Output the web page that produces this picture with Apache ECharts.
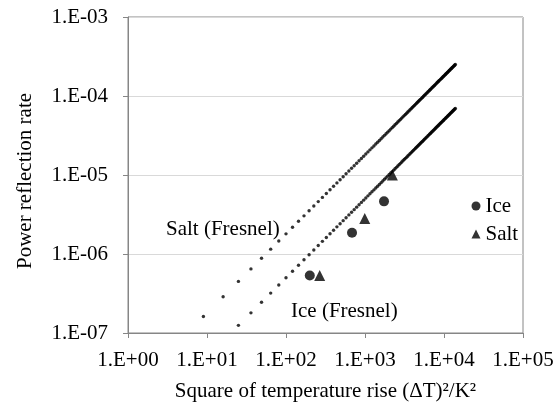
<!DOCTYPE html>
<html>
<head>
<meta charset="utf-8">
<script src="https://cdn.jsdelivr.net/npm/echarts@6/dist/echarts.min.js"></script>
<style>
html,body{margin:0;padding:0;background:#fff;}
#chart{width:558px;height:407px;}
</style>
</head>
<body>
<div id="chart"></div>
<script>
// Measured points
const iceX = [200, 685, 1740];
const iceY = [5.35e-7, 1.86e-6, 4.64e-6];
const saltX = [267, 992, 2220];
const saltY = [5.35e-7, 2.81e-6, 1.0e-5];

// Fresnel curves: dots at x = (ΔT)^2 for ΔT = 3..118
const fresnelX = [9,16,25,36,49,64,81,100,121,144,169,196,225,256,289,324,361,400,441,484,529,576,625,676,729,784,841,900,961,1024,1089,1156,1225,1296,1369,1444,1521,1600,1681,1764,1849,1936,2025,2116,2209,2304,2401,2500,2601,2704,2809,2916,3025,3136,3249,3364,3481,3600,3721,3844,3969,4096,4225,4356,4489,4624,4761,4900,5041,5184,5329,5476,5625,5776,5929,6084,6241,6400,6561,6724,6889,7056,7225,7396,7569,7744,7921,8100,8281,8464,8649,8836,9025,9216,9409,9604,9801,10000,10201,10404,10609,10816,11025,11236,11449,11664,11881,12100,12321,12544,12769,12996,13225,13456,13689,13924];
const saltFresnelY = [1.62e-7,2.88e-7,4.5e-7,6.48e-7,8.82e-7,1.152e-6,1.458e-6,1.8e-6,2.178e-6,2.592e-6,3.042e-6,3.528e-6,4.05e-6,4.608e-6,5.202e-6,5.832e-6,6.498e-6,7.2e-6,7.938e-6,8.712e-6,9.522e-6,1.0368e-5,1.125e-5,1.2168e-5,1.3122e-5,1.4112e-5,1.5138e-5,1.62e-5,1.7298e-5,1.8432e-5,1.9602e-5,2.0808e-5,2.205e-5,2.3328e-5,2.4642e-5,2.5992e-5,2.7378e-5,2.88e-5,3.0258e-5,3.1752e-5,3.3282e-5,3.4848e-5,3.645e-5,3.8088e-5,3.9762e-5,4.1472e-5,4.3218e-5,4.5e-5,4.6818e-5,4.8672e-5,5.0562e-5,5.2488e-5,5.445e-5,5.6448e-5,5.8482e-5,6.0552e-5,6.2658e-5,6.48e-5,6.6978e-5,6.9192e-5,7.1442e-5,7.3728e-5,7.605e-5,7.8408e-5,8.0802e-5,8.3232e-5,8.5698e-5,8.82e-5,9.0738e-5,9.3312e-5,9.5922e-5,9.8568e-5,1.0125e-4,1.03968e-4,1.06722e-4,1.09512e-4,1.12338e-4,1.152e-4,1.18098e-4,1.21032e-4,1.24002e-4,1.27008e-4,1.3005e-4,1.33128e-4,1.36242e-4,1.39392e-4,1.42578e-4,1.458e-4,1.49058e-4,1.52352e-4,1.55682e-4,1.59048e-4,1.6245e-4,1.65888e-4,1.69362e-4,1.72872e-4,1.76418e-4,1.8e-4,1.83618e-4,1.87272e-4,1.90962e-4,1.94688e-4,1.9845e-4,2.02248e-4,2.06082e-4,2.09952e-4,2.13858e-4,2.178e-4,2.21778e-4,2.25792e-4,2.29842e-4,2.33928e-4,2.3805e-4,2.42208e-4,2.46402e-4,2.50632e-4];
const iceFresnelX = fresnelX.slice(2);
const iceFresnelY = [1.25e-7,1.8e-7,2.45e-7,3.2e-7,4.05e-7,5e-7,6.05e-7,7.2e-7,8.45e-7,9.8e-7,1.125e-6,1.28e-6,1.445e-6,1.62e-6,1.805e-6,2e-6,2.205e-6,2.42e-6,2.645e-6,2.88e-6,3.125e-6,3.38e-6,3.645e-6,3.92e-6,4.205e-6,4.5e-6,4.805e-6,5.12e-6,5.445e-6,5.78e-6,6.125e-6,6.48e-6,6.845e-6,7.22e-6,7.605e-6,8e-6,8.405e-6,8.82e-6,9.245e-6,9.68e-6,1.0125e-5,1.058e-5,1.1045e-5,1.152e-5,1.2005e-5,1.25e-5,1.3005e-5,1.352e-5,1.4045e-5,1.458e-5,1.5125e-5,1.568e-5,1.6245e-5,1.682e-5,1.7405e-5,1.8e-5,1.8605e-5,1.922e-5,1.9845e-5,2.048e-5,2.1125e-5,2.178e-5,2.2445e-5,2.312e-5,2.3805e-5,2.45e-5,2.5205e-5,2.592e-5,2.6645e-5,2.738e-5,2.8125e-5,2.888e-5,2.9645e-5,3.042e-5,3.1205e-5,3.2e-5,3.2805e-5,3.362e-5,3.4445e-5,3.528e-5,3.6125e-5,3.698e-5,3.7845e-5,3.872e-5,3.9605e-5,4.05e-5,4.1405e-5,4.232e-5,4.3245e-5,4.418e-5,4.5125e-5,4.608e-5,4.7045e-5,4.802e-5,4.9005e-5,5e-5,5.1005e-5,5.202e-5,5.3045e-5,5.408e-5,5.5125e-5,5.618e-5,5.7245e-5,5.832e-5,5.9405e-5,6.05e-5,6.1605e-5,6.272e-5,6.3845e-5,6.498e-5,6.6125e-5,6.728e-5,6.8445e-5,6.962e-5];

const xTicks = [1, 10, 100, 1000, 10000, 100000];
const xTickLabels = ['1.E+00','1.E+01','1.E+02','1.E+03','1.E+04','1.E+05'];
const yTicks = [1e-7, 1e-6, 1e-5, 1e-4, 1e-3];
const yTickLabels = ['1.E-07','1.E-06','1.E-05','1.E-04','1.E-03'];

const xTitle = 'Square of temperature rise (ΔT)²/K²';
const yTitle = 'Power reflection rate';
const saltFresnelLabel = 'Salt (Fresnel)';
const iceFresnelLabel = 'Ice (Fresnel)';

function zip(a, b) { return a.map((v, i) => [v, b[i]]); }
function lookup(ticks, labels, v) {
  for (let i = 0; i < ticks.length; i++) {
    if (Math.abs(Math.log10(v) - Math.log10(ticks[i])) < 1e-6) return labels[i];
  }
  return '';
}

const FONT = "'Liberation Serif', 'Times New Roman', serif";
const FS = 21;
const AXIS = '#868686';

const chart = echarts.init(document.getElementById('chart'), null, {renderer: 'canvas'});
chart.setOption({
  animation: false,
  backgroundColor: '#fff',
  textStyle: {fontFamily: FONT},
  grid: {left: 128, right: 35, top: 17, bottom: 71, show: true, borderColor: AXIS, borderWidth: 1, backgroundColor: 'transparent'},
  xAxis: {
    type: 'log', logBase: 10, min: 1, max: 100000,
    name: xTitle, nameLocation: 'middle', nameGap: 48,
    nameTextStyle: {fontFamily: FONT, fontSize: FS, color: '#000'},
    axisLine: {show: true, lineStyle: {color: AXIS}},
    axisTick: {show: true, length: 5, lineStyle: {color: AXIS}},
    splitLine: {show: false},
    minorTick: {show: false},
    axisLabel: {fontFamily: FONT, fontSize: FS, color: '#000', margin: 17,
      formatter: v => lookup(xTicks, xTickLabels, v)}
  },
  yAxis: {
    type: 'log', logBase: 10, min: 1e-7, max: 1e-3,
    name: yTitle, nameLocation: 'middle', nameGap: 92, nameRotate: 90,
    nameTextStyle: {fontFamily: FONT, fontSize: FS, color: '#000', padding: [0, 12, 0, 0]},
    axisLine: {show: true, lineStyle: {color: AXIS}},
    axisTick: {show: true, length: 5, lineStyle: {color: AXIS}},
    splitLine: {show: true, lineStyle: {color: '#d9d9d9', width: 1}},
    axisLabel: {fontFamily: FONT, fontSize: FS, color: '#000', margin: 20,
      formatter: v => lookup(yTicks, yTickLabels, v)}
  },
  legend: {
    data: [{name: 'Ice', icon: 'circle'}, {name: 'Salt', icon: 'triangle'}],
    orient: 'vertical', left: 471.5, top: 195.5, padding: 0,
    itemWidth: 9, itemHeight: 9, itemGap: 7,
    textStyle: {fontFamily: FONT, fontSize: FS, color: '#000'}
  },
  graphic: [
    {type: 'text', left: 166, top: 219, style: {text: saltFresnelLabel, font: FS + "px " + FONT, fill: '#000'}},
    {type: 'text', left: 291, top: 301, style: {text: iceFresnelLabel, font: FS + "px " + FONT, fill: '#000'}}
  ],
  series: [
    {name: 'Salt (Fresnel)', type: 'scatter', data: zip(fresnelX, saltFresnelY), symbol: 'circle', symbolSize: 3.4,
      itemStyle: {color: '#000'}, silent: true},
    {name: 'Ice (Fresnel)', type: 'scatter', data: zip(iceFresnelX, iceFresnelY), symbol: 'circle', symbolSize: 3.4,
      itemStyle: {color: '#000'}, silent: true},
    {name: 'Ice', type: 'scatter', data: zip(iceX, iceY), symbol: 'circle', symbolSize: 10,
      itemStyle: {color: '#000'}},
    {name: 'Salt', type: 'scatter', data: zip(saltX, saltY), symbol: 'triangle', symbolSize: 11,
      itemStyle: {color: '#000'}}
  ]
});
</script>
</body>
</html>
